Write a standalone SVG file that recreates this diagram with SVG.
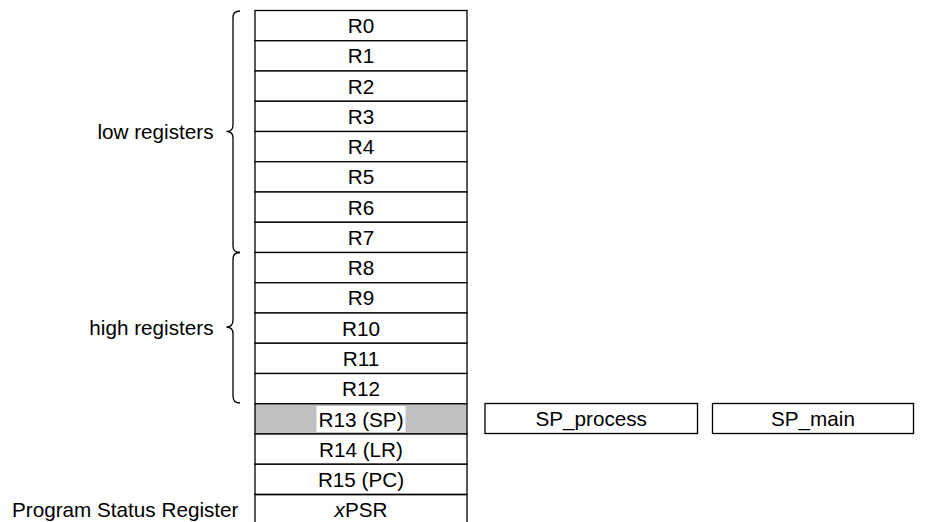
<svg xmlns="http://www.w3.org/2000/svg" width="925" height="522" viewBox="0 0 925 522">
<style>
text{font-family:"Liberation Sans",Arial,sans-serif;font-size:20.7px;fill:#000}
.c{text-anchor:middle}
.e{text-anchor:end}
.box{fill:#fff;stroke:#000;stroke-width:1.3}
.br{fill:none;stroke:#000;stroke-width:1.3}
</style>
<rect width="925" height="522" fill="#fff"/>
<g id="R0"><rect class="box" x="255" y="10.5" width="212" height="30.25"/><text class="c" x="361" y="33">R0</text></g>
<g id="R1"><rect class="box" x="255" y="40.75" width="212" height="30.25"/><text class="c" x="361" y="63.3">R1</text></g>
<g id="R2"><rect class="box" x="255" y="71" width="212" height="30.25"/><text class="c" x="361" y="93.5">R2</text></g>
<g id="R3"><rect class="box" x="255" y="101.25" width="212" height="30.25"/><text class="c" x="361" y="123.8">R3</text></g>
<g id="R4"><rect class="box" x="255" y="131.5" width="212" height="30.25"/><text class="c" x="361" y="154">R4</text></g>
<g id="R5"><rect class="box" x="255" y="161.75" width="212" height="30.25"/><text class="c" x="361" y="184.3">R5</text></g>
<g id="R6"><rect class="box" x="255" y="192" width="212" height="30.25"/><text class="c" x="361" y="214.5">R6</text></g>
<g id="R7"><rect class="box" x="255" y="222.25" width="212" height="30.25"/><text class="c" x="361" y="244.8">R7</text></g>
<g id="R8"><rect class="box" x="255" y="252.5" width="212" height="30.25"/><text class="c" x="361" y="275">R8</text></g>
<g id="R9"><rect class="box" x="255" y="282.75" width="212" height="30.25"/><text class="c" x="361" y="305.3">R9</text></g>
<g id="R10"><rect class="box" x="255" y="313" width="212" height="30.25"/><text class="c" x="361" y="335.5">R10</text></g>
<g id="R11"><rect class="box" x="255" y="343.25" width="212" height="30.25"/><text class="c" x="361" y="365.8">R11</text></g>
<g id="R12"><rect class="box" x="255" y="373.5" width="212" height="30.25"/><text class="c" x="361" y="396">R12</text></g>
<g id="R13"><rect class="box" x="255" y="403.75" width="212" height="30.25" style="fill:#c0c0c0"/><rect x="316.5" y="406" width="89" height="26" fill="#fff"/><text class="c" x="361" y="426.5">R13 (SP)</text></g>
<g id="R14"><rect class="box" x="255" y="434" width="212" height="30.25"/><text class="c" x="361" y="456.5">R14 (LR)</text></g>
<g id="R15"><rect class="box" x="255" y="464.25" width="212" height="30.25"/><text class="c" x="361" y="486.8">R15 (PC)</text></g>
<g id="xPSR"><path class="br" d="M255,523 V494.5 H467 V523"/><text class="c" x="361" y="517"><tspan font-style="italic">x</tspan>PSR</text></g>
<g id="SP_process"><rect class="box" x="485" y="403.5" width="212.5" height="30"/><text class="c" x="591.2" y="426.3">SP_process</text></g>
<g id="SP_main"><rect class="box" x="712.5" y="403.5" width="201" height="30"/><text class="c" x="813" y="426.3">SP_main</text></g>
<g id="labels">
<text class="e" x="213.5" y="138.8">low registers</text>
<text class="e" x="213.5" y="334.8">high registers</text>
<text class="e" x="238.5" y="517">Program Status Register</text>
</g>
<g id="connectors">
<path class="br" d="M240,11 Q233,11 233,18 V125 Q233,131.5 226.5,131.5 Q233,131.5 233,138 V246 Q233,252.5 240,252.5"/>
<path class="br" d="M240,252.5 Q233,252.5 233,259 V320 Q233,327 226.5,327 Q233,327 233,334 V396 Q233,403 240,403"/>
</g>
</svg>
